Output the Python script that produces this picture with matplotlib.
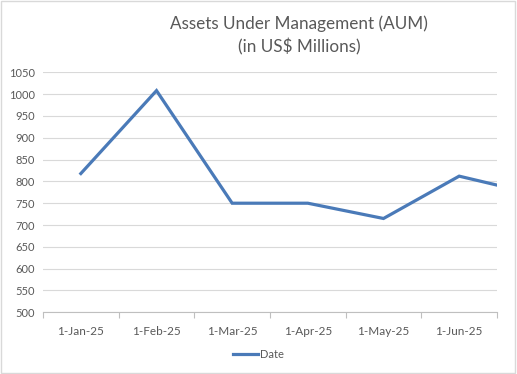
import numpy as np
import matplotlib.pyplot as plt
from matplotlib.patches import Rectangle

plt.rcParams['font.family'] = ['Lato', 'DejaVu Sans']

months = ['1-Jan-25', '1-Feb-25', '1-Mar-25', '1-Apr-25', '1-May-25', '1-Jun-25']
# seven points, the last one runs off the right edge of the plot area
aum = [818, 1008, 750, 750, 715, 812, 771]

fig = plt.figure(figsize=(5.17, 3.74), dpi=100)
ax = fig.add_axes([43 / 517, 1 - 312.3 / 374, (497 - 43) / 517, (312.3 - 72.3) / 374])

x = np.arange(len(aum))
ax.plot(x, aum, color='#4a7ab8', lw=2.3, solid_joinstyle='miter', label='Date')

ax.set_xlim(-0.5, len(months) - 0.5)
ax.set_ylim(500, 1050)
ax.set_yticks(np.arange(500, 1051, 50))
ax.grid(axis='y', color='#d9d9d9', lw=0.8)
ax.set_axisbelow(True)

ax.set_xticks(np.arange(len(months)))
ax.set_xticklabels(months)
ax.set_xticks(np.arange(-0.5, len(months)), minor=True)
ax.tick_params(axis='x', which='major', length=0, pad=10, labelsize=8.5, labelcolor='#595959')
ax.tick_params(axis='x', which='minor', length=4, color='#bfbfbf', width=0.8)
ax.tick_params(axis='y', length=0, pad=6, labelsize=8, labelcolor='#595959')

for s in ['top', 'right', 'left']:
    ax.spines[s].set_visible(False)
ax.spines['bottom'].set_color('#bfbfbf')
ax.spines['bottom'].set_linewidth(0.8)

fig.text(299 / 517, 1 - 35 / 374, 'Assets Under Management (AUM)\n(in US$ Millions)',
         ha='center', va='center', fontsize=12.3, color='#595959', linespacing=1.45)

fig.legend(loc='center', bbox_to_anchor=(0.5, 1 - 354 / 374), frameon=False,
           fontsize=8, labelcolor='#595959', handlelength=2.2, handletextpad=0.2)

fig.patches.append(Rectangle((0.002, 0.003), 0.995, 0.994, transform=fig.transFigure,
                             fill=False, edgecolor='#d9d9d9', lw=1))

fig.savefig('out.png', dpi=100)
